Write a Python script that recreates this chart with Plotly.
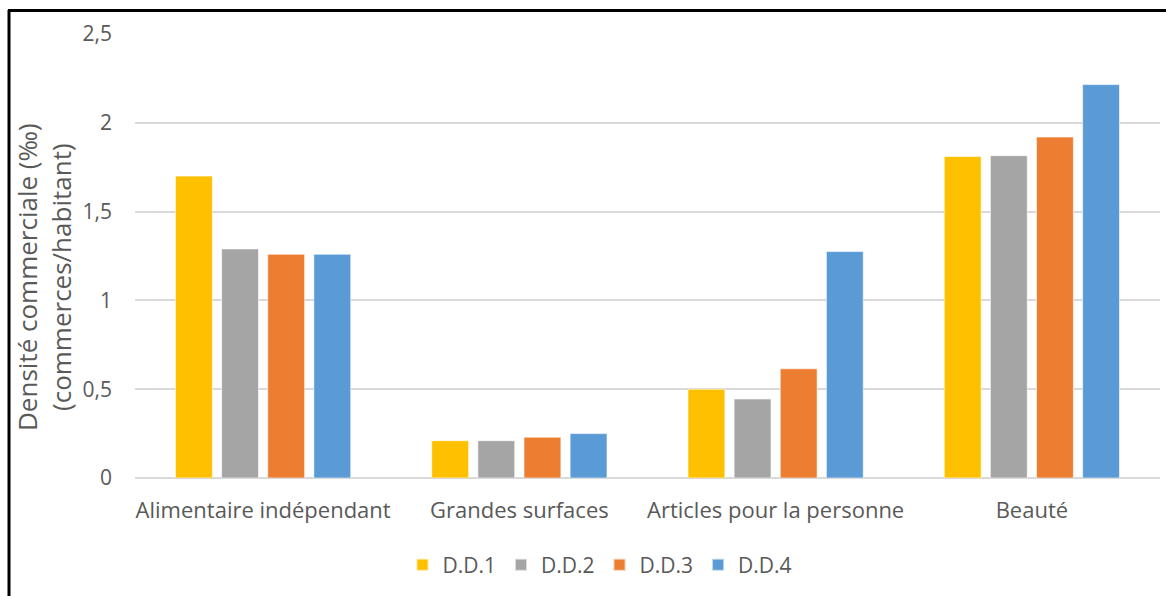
import plotly.graph_objects as go

categories = ["Alimentaire indépendant", "Grandes surfaces", "Articles pour la personne", "Beauté"]
series_names = ["D.D.1", "D.D.2", "D.D.3", "D.D.4"]
dd1 = [1.70, 0.21, 0.50, 1.81]
dd2 = [1.29, 0.21, 0.445, 1.815]
dd3 = [1.26, 0.23, 0.615, 1.92]
dd4 = [1.26, 0.25, 1.275, 2.215]
colors = ["#FFC000", "#A5A5A5", "#ED7D31", "#5B9BD5"]

W, H = 1166, 596
L, R, T, B = 135, 6, 34, 118
pw = W - L - R
ph = H - T - B

def px_x(px):
    return (px - L) / pw

def px_y(py):
    return (H - B - py) / ph

font_family = "Open Sans, Noto Sans, sans-serif"
grey = "#595959"

fig = go.Figure()
for name, vals, col in zip(series_names, [dd1, dd2, dd3, dd4], colors):
    fig.add_trace(go.Bar(
        x=categories, y=vals, name=name,
        marker=dict(color=col, line=dict(color="rgba(255,255,255,0.6)", width=1)),
    ))

fig.update_layout(
    width=W, height=H,
    margin=dict(l=L, r=R, t=T, b=B),
    paper_bgcolor="white", plot_bgcolor="white",
    separators=", ",
    barmode="group", bargap=0.28, bargroupgap=0.2,
    font=dict(family=font_family, color=grey),
    showlegend=True,
    legend=dict(orientation="h", x=px_x(600), xanchor="center", y=px_y(565), yanchor="middle",
                font=dict(size=21, color=grey), itemwidth=30, traceorder="normal",
                itemsizing="constant"),
    xaxis=dict(showgrid=False, showline=False, ticks="", tickfont=dict(size=22, color=grey),
               ticklabelstandoff=17),
    yaxis=dict(range=[0, 2.5], dtick=0.5, showgrid=True, gridcolor="#D9D9D9", gridwidth=1.5,
               zeroline=True, zerolinecolor="#D9D9D9", zerolinewidth=2,
               tickfont=dict(size=21, color=grey), ticks="", ticklabelstandoff=22,
               showline=False),
)

fig.add_annotation(
    text="Densité commerciale (‰)<br>(commerces/habitant)",
    xref="paper", yref="paper", x=px_x(44), y=px_y(277),
    xanchor="center", yanchor="middle", textangle=-90, showarrow=False,
    font=dict(size=26, color=grey, family=font_family),
)

# outer frame (left and top edges visible)
fig.add_shape(type="line", xref="paper", yref="paper",
              x0=px_x(9), x1=px_x(9), y0=px_y(10), y1=px_y(600),
              line=dict(color="black", width=3))
fig.add_shape(type="line", xref="paper", yref="paper",
              x0=px_x(8), x1=px_x(1170), y0=px_y(10.5), y1=px_y(10.5),
              line=dict(color="black", width=3))

fig.write_html("out.html", config={"displayModeBar": False},
               post_script="document.body.style.margin='0';document.body.style.overflow='hidden';")
